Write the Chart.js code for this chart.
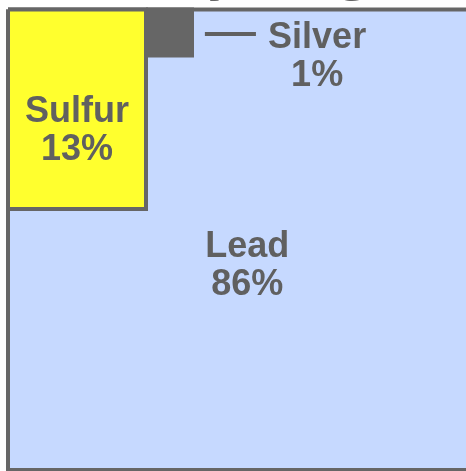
<!DOCTYPE html>
<html>
<head>
<meta charset="utf-8">
<script src="https://cdn.jsdelivr.net/npm/chart.js@4/dist/chart.umd.min.js"></script>
<style>
  html, body { margin: 0; padding: 0; background: #ffffff; overflow: hidden; }
  #wrap { position: absolute; left: 0; top: 0; width: 480px; height: 471px; }
</style>
</head>
<body>
<div id="wrap"><canvas id="c" width="480" height="471"></canvas></div>
<script>
// ---- data ----
const categories = ['Lead', 'Sulfur', 'Silver'];
const percents   = [86, 13, 1];
const fillColors = ['#c6d9ff', '#ffff2e', '#666666'];
const titleText  = 'Galena by weight';

// ---- layout (square of area 100 split like the reference) ----
const side = Math.sqrt(percents.reduce((a, b) => a + b, 0)); // 10
const sulfurWidth = 3;
const sulfurHeight = percents[1] / sulfurWidth;
const silverSide = Math.sqrt(percents[2]);

function rect(x0, y0, x1, y1) {
  return [{x:x0,y:y0},{x:x1,y:y0},{x:x1,y:y1},{x:x0,y:y1},{x:x0,y:y0}];
}
const shapes = [
  rect(0, 0, side, side),                                   // Lead: whole square
  rect(0, 0, sulfurWidth, sulfurHeight),                    // Sulfur
  rect(sulfurWidth, 0, sulfurWidth + silverSide, silverSide) // Silver
];

// label anchors in data units
const labelPos = [
  {x: 5.2, y: 5.58},
  {x: 1.5, y: 2.65},
  {x: 6.72, y: 1.03}
];

const datasets = categories.map((name, i) => ({
  label: name,
  data: shapes[i],
  showLine: true,
  fill: 'shape',
  backgroundColor: fillColors[i],
  borderColor: '#666666',
  borderWidth: 4,
  borderJoinStyle: 'miter',
  pointRadius: 0,
  tension: 0,
  clip: false,
  order: categories.length - i
}));

const labelPlugin = {
  id: 'labels',
  afterDatasetsDraw(chart) {
    const ctx = chart.ctx;
    const xs = chart.scales.x, ys = chart.scales.y;
    ctx.save();
    ctx.fillStyle = '#606060';
    ctx.font = 'bold 36px "Liberation Sans", Arial, sans-serif';
    ctx.textAlign = 'center';
    ctx.textBaseline = 'middle';
    categories.forEach((name, i) => {
      const px = xs.getPixelForValue(labelPos[i].x);
      const py = ys.getPixelForValue(labelPos[i].y);
      ctx.fillText(name, px, py - 19);
      ctx.fillText(percents[i] + '%', px, py + 19);
    });
    // leader line for Silver
    const ly = ys.getPixelForValue(0.53);
    ctx.strokeStyle = '#606060';
    ctx.lineWidth = 4;
    ctx.beginPath();
    ctx.moveTo(xs.getPixelForValue(4.28), ly);
    ctx.lineTo(xs.getPixelForValue(5.39), ly);
    ctx.stroke();
    // title (mostly above the visible area)
    ctx.font = 'bold 45px "DejaVu Sans", sans-serif';
    ctx.textBaseline = 'alphabetic';
    ctx.fillStyle = '#666666';
    ctx.fillText(titleText, 203, -8);
    ctx.restore();
  }
};

new Chart(document.getElementById('c'), {
  type: 'scatter',
  data: { datasets },
  options: {
    responsive: false,
    animation: false,
    devicePixelRatio: 1,
    layout: { padding: { left: 8, right: 12, top: 9.5, bottom: 1 } },
    scales: {
      x: { type: 'linear', min: 0, max: side, display: false },
      y: { type: 'linear', min: 0, max: side, reverse: true, display: false }
    },
    plugins: {
      legend: { display: false },
      tooltip: { enabled: false },
      title: { display: false }
    }
  },
  plugins: [labelPlugin]
});
</script>
</body>
</html>
